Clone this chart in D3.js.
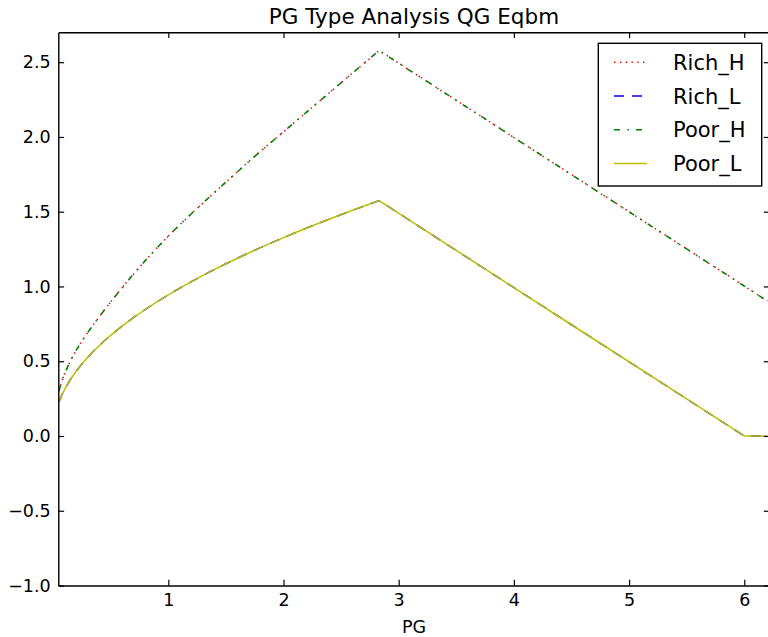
<!DOCTYPE html>
<html>
<head>
<meta charset="utf-8">
<script src="https://cdnjs.cloudflare.com/ajax/libs/d3/7.8.5/d3.min.js"></script>
<style>
    body { margin: 0; background: #fff; }
    #chart-area { width: 768px; height: 637px; overflow: hidden; }
    text { font-family: "DejaVu Sans", sans-serif; fill: #000; }
</style>
</head>
<body>
<div id="chart-area"></div>
<script>

const pgValues = [0.05, 0.075, 0.1, 0.15, 0.2, 0.25, 0.3, 0.35, 0.4, 0.45, 0.5, 0.6, 0.7, 0.8, 0.9, 1.0, 1.1, 1.2, 1.35, 1.5, 1.65, 1.8, 1.95, 2.1, 2.25, 2.4, 2.6, 2.7, 2.83, 3.5, 4.5, 5.5, 6.0, 6.2];

// High types (rich and poor lie on top of each other)
const richH = [0.30, 0.365, 0.418, 0.503, 0.573, 0.635, 0.692, 0.745, 0.797, 0.847, 0.897, 0.993, 1.085, 1.173, 1.257, 1.337, 1.413, 1.486, 1.593, 1.698, 1.802, 1.904, 2.002, 2.100, 2.199, 2.297, 2.428, 2.493, 2.578, 2.245, 1.748, 1.251, 1.003, 0.903];
const poorH = [0.30, 0.365, 0.418, 0.503, 0.573, 0.635, 0.692, 0.745, 0.797, 0.847, 0.897, 0.993, 1.085, 1.173, 1.257, 1.337, 1.413, 1.486, 1.593, 1.698, 1.802, 1.904, 2.002, 2.100, 2.199, 2.297, 2.428, 2.493, 2.578, 2.245, 1.748, 1.251, 1.003, 0.903];

// Low types
const richL = [0.227, 0.273, 0.312, 0.378, 0.433, 0.482, 0.526, 0.567, 0.604, 0.640, 0.673, 0.736, 0.793, 0.846, 0.897, 0.944, 0.989, 1.032, 1.094, 1.152, 1.207, 1.260, 1.310, 1.359, 1.406, 1.451, 1.510, 1.538, 1.574, 1.241, 0.744, 0.248, 0.0, 0.0];
const poorL = [0.227, 0.273, 0.312, 0.378, 0.433, 0.482, 0.526, 0.567, 0.604, 0.640, 0.673, 0.736, 0.793, 0.846, 0.897, 0.944, 0.989, 1.032, 1.094, 1.152, 1.207, 1.260, 1.310, 1.359, 1.406, 1.451, 1.510, 1.538, 1.574, 1.241, 0.744, 0.248, 0.0, 0.0];

const seriesNames = ["Rich_H", "Rich_L", "Poor_H", "Poor_L"];
const xTicks = [1, 2, 3, 4, 5, 6];
const yTicks = [-1.0, -0.5, 0.0, 0.5, 1.0, 1.5, 2.0, 2.5];

class PGTypeChart {

    constructor(parentElement) {
        this.parentElement = parentElement;
        this.displayData = [];
        this.initVis();
    }

    initVis() {
        let vis = this;

        vis.margin = { top: 32.3, right: -1.6, bottom: 51.5, left: 58.3 };
        vis.width = 768 - vis.margin.left - vis.margin.right;
        vis.height = 637 - vis.margin.top - vis.margin.bottom;

        vis.root = d3.select(`#${vis.parentElement}`).append("svg")
            .attr("width", 768)
            .attr("height", 637);

        vis.svg = vis.root.append("g")
            .attr("transform", `translate(${vis.margin.left}, ${vis.margin.top})`);

        vis.svg.append("clipPath")
            .attr("id", "plot-clip")
            .append("rect")
            .attr("width", vis.width)
            .attr("height", vis.height);

        vis.xScale = d3.scaleLinear().domain([0.045, 6.22]).range([0, vis.width]);
        vis.yScale = d3.scaleLinear().domain([-1.0, 2.7]).range([vis.height, 0]);

        // styles per series, matplotlib classic look
        vis.styles = {
            "Rich_H": { color: "#ff0000", dash: "1.4,4.4" },
            "Rich_L": { color: "#0000ff", dash: "10,8" },
            "Poor_H": { color: "#008000", dash: "6,7.5,1.5,7" },
            "Poor_L": { color: "#bfbf00", dash: null }
        };

        vis.lines = vis.svg.append("g").attr("clip-path", "url(#plot-clip)");

        // Title
        vis.root.append("text")
            .attr("x", vis.margin.left + vis.width / 2)
            .attr("y", 24)
            .attr("text-anchor", "middle")
            .style("font-size", "21.5px")
            .text("PG Type Analysis QG Eqbm");

        // Axis label
        vis.root.append("text")
            .attr("x", vis.margin.left + vis.width / 2)
            .attr("y", 633)
            .attr("text-anchor", "middle")
            .style("font-size", "17.5px")
            .text("PG");

        vis.wrangleData();
    }

    wrangleData() {
        let vis = this;

        const valuesByName = { "Rich_H": richH, "Rich_L": richL, "Poor_H": poorH, "Poor_L": poorL };

        vis.displayData = seriesNames.map(name => ({
            name: name,
            points: pgValues.map((pg, i) => ({ pg: pg, value: valuesByName[name][i] }))
        }));

        vis.updateVis();
    }

    updateVis() {
        let vis = this;
        const tickLen = 5.8;
        const fmtY = d => d3.format(".1f")(d).replace("-", "\u2212");

        const line = d3.line()
            .x(d => vis.xScale(d.pg))
            .y(d => vis.yScale(d.value));

        vis.lines.selectAll(".series")
            .data(vis.displayData)
            .enter().append("path")
            .attr("class", "series")
            .attr("d", d => line(d.points))
            .attr("fill", "none")
            .attr("stroke", d => vis.styles[d.name].color)
            .attr("stroke-width", 1.5)
            .attr("stroke-linejoin", "round")
            .attr("stroke-dasharray", d => vis.styles[d.name].dash);

        // Axes, ticks pointing inward on all four sides
        const axes = [
            { axis: d3.axisBottom(vis.xScale).tickValues(xTicks).tickFormat(d3.format("d")), t: `translate(0, ${vis.height})` },
            { axis: d3.axisTop(vis.xScale).tickValues(xTicks).tickFormat(""), t: "translate(0, 0)" },
            { axis: d3.axisLeft(vis.yScale).tickValues(yTicks).tickFormat(fmtY), t: "translate(0, 0)" },
            { axis: d3.axisRight(vis.yScale).tickValues(yTicks).tickFormat(""), t: `translate(${vis.width}, 0)` }
        ];

        axes.forEach(a => {
            const g = vis.svg.append("g")
                .attr("transform", a.t)
                .call(a.axis.tickSizeInner(-tickLen).tickSizeOuter(0).tickPadding(7.6));
            g.selectAll("path.domain").attr("stroke", "#000").attr("stroke-width", 1.4);
            g.selectAll(".tick line").attr("stroke", "#000").attr("stroke-width", 1.2);
            g.selectAll(".tick text")
                .style("font-family", "DejaVu Sans")
                .style("font-size", "17.5px")
                .attr("fill", "#000");
        });

        // Legend
        const legend = vis.root.append("g").attr("transform", "translate(598.3, 43.3)");
        legend.append("rect")
            .attr("width", 163.4)
            .attr("height", 142.7)
            .attr("fill", "#fff")
            .attr("stroke", "#000")
            .attr("stroke-width", 1.4);

        const rows = legend.selectAll(".legend-row")
            .data(seriesNames)
            .enter().append("g")
            .attr("class", "legend-row")
            .attr("transform", (d, i) => `translate(0, ${19 + i * 33.7})`);

        rows.append("line")
            .attr("x1", 15.7).attr("x2", 48.7)
            .attr("stroke", d => vis.styles[d].color)
            .attr("stroke-width", 1.5)
            .attr("stroke-dasharray", d => vis.styles[d].dash);

        rows.append("text")
            .attr("x", 74.7)
            .attr("dy", "0.36em")
            .style("font-size", "21px")
            .text(d => d);
    }
}

new PGTypeChart("chart-area");
</script>
</body>
</html>
